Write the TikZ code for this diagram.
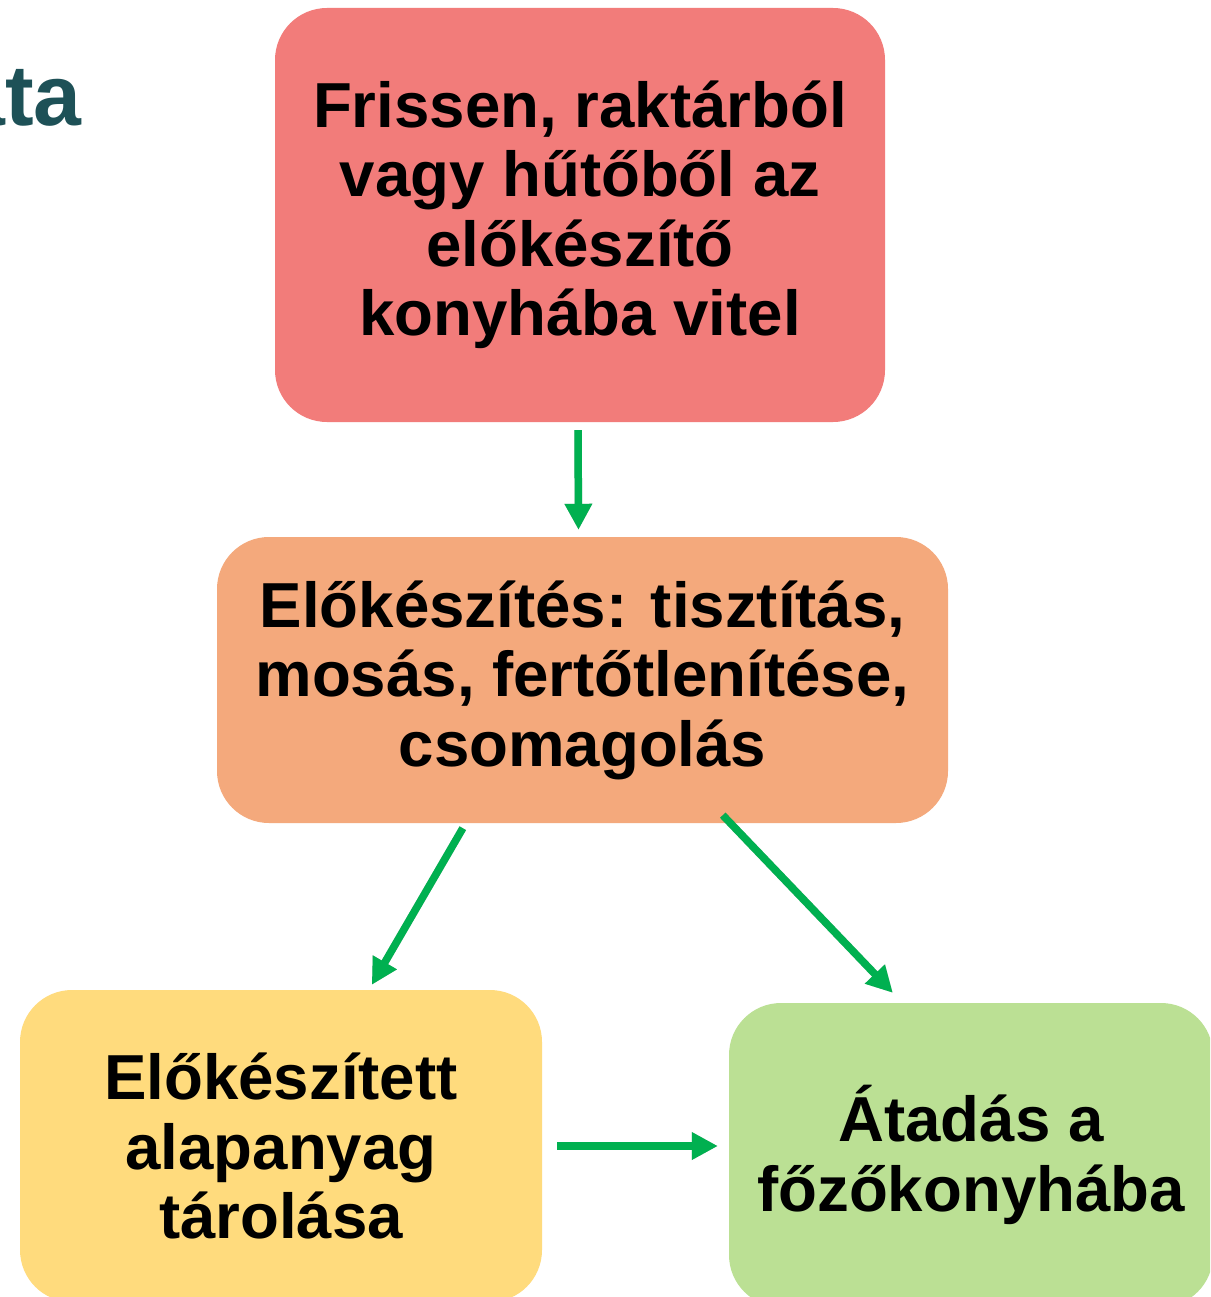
\documentclass[tikz,border=0pt]{standalone}
\usepackage{fontspec}
\setmainfont{Liberation Sans}
\usetikzlibrary{arrows.meta}
\definecolor{cred}{HTML}{F27C7A}
\definecolor{corange}{HTML}{F4A97C}
\definecolor{cyellow}{HTML}{FFDB7D}
\definecolor{cgreen}{HTML}{BBE094}
\definecolor{carrow}{HTML}{00B050}
\definecolor{cteal}{HTML}{1E5157}
\tikzset{
  box/.style={rounded corners=52pt, inner sep=0pt, align=center,
    font=\bfseries\fontsize{63.6}{69.5}\selectfont, text=black},
  flow/.style={draw=carrow, line width=7.5pt, -{Triangle[length=26pt,width=26pt]}},
  flowshadow/.style={draw=black, opacity=0.22, line width=7.5pt, -{Triangle[length=26pt,width=26pt]}},
}
\begin{document}
\begin{tikzpicture}[x=1pt,y=-1pt]
\useasboundingbox (0,0) rectangle (1210,1297);
\clip (0,0) rectangle (1210,1297);
\fill[white] (0,0) rectangle (1210,1297);

\node[anchor=base east, inner sep=0pt, text=cteal, font=\bfseries\fontsize{86}{90}\selectfont] (title) at (82,126) {ata};

\node[box, fill=cred, minimum width=610pt, minimum height=414pt] (red) at (580,215)
  {Frissen, raktárból\\vagy hűtőből az\\előkészítő\\konyhába vitel};
\node[box, fill=corange, minimum width=731pt, minimum height=286pt] (orange) at (582.5,680)
  {Előkészítés: tisztítás,\\mosás, fertőtlenítése,\\csomagolás};
\node[box, fill=cyellow, minimum width=522pt, minimum height=312pt] (yellow) at (281,1146)
  {Előkészített\\alapanyag\\tárolása};
\node[box, fill=cgreen, minimum width=484pt, minimum height=304pt] (green) at (971,1155)
  {Átadás a\\főzőkonyhába};

% shadows
\begin{scope}[shift={(3,4)}]
\draw[flowshadow] ([xshift=-2pt,yshift=-8pt]red.south) -- ([xshift=-4pt,yshift=7pt]orange.north);
\draw[flowshadow] ([xshift=246pt,yshift=-5pt]orange.south west) -- ([xshift=352pt,yshift=5pt]yellow.north west);
\draw[flowshadow] ([xshift=506pt,yshift=8pt]orange.south west) -- ([xshift=164pt,yshift=10pt]green.north west);
\draw[flowshadow] ([xshift=15pt,yshift=0pt]yellow.east) -- ([xshift=-11pt,yshift=9pt]green.west);
\end{scope}

\draw[flow] ([xshift=-2pt,yshift=-8pt]red.south) -- ([xshift=-4pt,yshift=7pt]orange.north);
\draw[flow] ([xshift=246pt,yshift=-5pt]orange.south west) -- ([xshift=352pt,yshift=5pt]yellow.north west);
\draw[flow] ([xshift=506pt,yshift=8pt]orange.south west) -- ([xshift=164pt,yshift=10pt]green.north west);
\draw[flow] ([xshift=15pt,yshift=0pt]yellow.east) -- ([xshift=-11pt,yshift=9pt]green.west);
\end{tikzpicture}
\end{document}
